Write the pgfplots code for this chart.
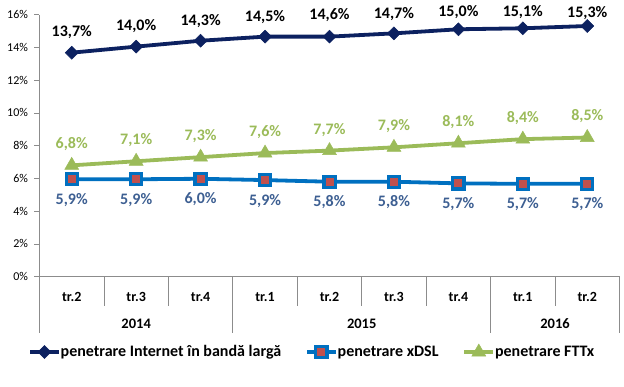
\documentclass[border=0pt]{standalone}
\usepackage{pgfplots}
\usepackage{pgfplotstable}
\pgfplotsset{compat=1.18}
\usepackage{fontspec}
\setmainfont{Carlito}
\definecolor{navy}{HTML}{0C2160}
\definecolor{dslblue}{HTML}{0070C0}
\definecolor{dslred}{HTML}{C0504D}
\definecolor{ftgreen}{HTML}{9BBB59}
\definecolor{dsltext}{HTML}{3D5F92}
\definecolor{axisgray}{HTML}{8C8C8C}
% x, plotted value, data label, label offset (pt)
\pgfplotstableread{
x  y      lab   dy
0  13.68  13,7  20.4
1  14.05  14,0  20.6
2  14.41  14,3  19.7
3  14.66  14,5  19.9
4  14.66  14,6  21.6
5  14.86  14,7  19.1
6  15.11  15,0  17.0
7  15.17  15,1  16.0
8  15.31  15,3  13.3
}\bbdata
\pgfplotstableread{
x  y     lab
0  5.95  5,9
1  5.95  5,9
2  5.98  6,0
3  5.9   5,9
4  5.8   5,8
5  5.8   5,8
6  5.7   5,7
7  5.67  5,7
8  5.67  5,7
}\dsldata
\pgfplotstableread{
x  y     lab
0  6.8   6,8
1  7.05  7,1
2  7.3   7,3
3  7.55  7,6
4  7.7   7,7
5  7.9   7,9
6  8.15  8,1
7  8.4   8,4
8  8.5   8,5
}\fttxdata
\begin{document}
\begin{tikzpicture}
\path[use as bounding box] (-39.5pt,-110.3pt) rectangle (584.5pt,276.7pt);
\begin{axis}[
  at={(0pt,0pt)}, anchor=south west,
  scale only axis, width=580pt, height=262pt,
  xmin=-0.5, xmax=8.5, ymin=0, ymax=16,
  axis lines*=left,
  axis line style={draw=axisgray, line width=0.8pt},
  xtick=\empty,
  ytick={0,2,...,16},
  yticklabel={\pgfmathprintnumber{\tick}\%},
  yticklabel style={font=\fontsize{12}{14}\selectfont, xshift=-3pt},
  y tick style={draw=axisgray, line width=0.8pt},
  tick align=outside, major tick length=5pt,
  clip=false,
  /pgf/number format/assume math mode=true,
  legend columns=3,
  legend style={draw=none, fill=none, inner sep=0pt,
    font=\fontsize{16}{19}\selectfont\bfseries,
    at={(axis description cs:-0.0198,-0.2863)}, anchor=west,
    /tikz/every even column/.append style={column sep=24pt},
    nodes={inner xsep=0pt, inner ysep=1pt}},
  legend image code/.code={\draw[#1, mark repeat=2, mark phase=2] plot coordinates {(0pt,0pt) (14.35pt,0pt) (28.7pt,0pt)};},
  point meta=explicit symbolic,
  nodes near coords={\pgfplotspointmeta\%},
]
% Internet broadband
\addplot[navy, line width=3.8pt, mark=square*, mark size=4.6pt,
  mark options={solid, rotate=45, fill=navy, draw=navy, line width=0.5pt},
  visualization depends on={\thisrow{dy} \as \labdy},
  every node near coord/.style={anchor=center, yshift=\labdy pt, text=black,
    font=\fontsize{16}{19}\selectfont\bfseries}]
  table[x=x, y=y, meta=lab] {\bbdata};
\addlegendentry{penetrare Internet în bandă largă}
% xDSL
\addplot[dslblue, line width=3.8pt, mark=square*, mark size=5.6pt,
  mark options={solid, fill=dslred, draw=dslblue, line width=3.2pt, rounded corners=1.5pt},
  every node near coord/.style={anchor=center, yshift=-20.5pt, text=dsltext,
    font=\fontsize{16}{19}\selectfont\bfseries}]
  table[x=x, y=y, meta=lab] {\dsldata};
\addlegendentry{penetrare xDSL}
% FTTx
\addplot[ftgreen, line width=3.8pt, mark=triangle*, mark size=8pt,
  mark options={solid, fill=ftgreen, draw=ftgreen, line width=0.5pt},
  every node near coord/.style={anchor=center, yshift=21pt, text=ftgreen,
    font=\fontsize{16}{19}\selectfont\bfseries}]
  table[x=x, y=y, meta=lab] {\fttxdata};
\addlegendentry{penetrare FTTx}
% category axis: separators
\draw[axisgray, line width=0.8pt] (axis cs:-0.5,0) -- ++(0pt,-56.3pt);
\draw[axisgray, line width=0.8pt] (axis cs:2.5,0) -- ++(0pt,-56.3pt);
\draw[axisgray, line width=0.8pt] (axis cs:6.5,0) -- ++(0pt,-56.3pt);
\draw[axisgray, line width=0.8pt] (axis cs:8.5,0) -- ++(0pt,-56.3pt);
\draw[axisgray, line width=0.8pt] (axis cs:0.5,0) -- ++(0pt,-29pt);
\draw[axisgray, line width=0.8pt] (axis cs:1.5,0) -- ++(0pt,-29pt);
\draw[axisgray, line width=0.8pt] (axis cs:3.5,0) -- ++(0pt,-29pt);
\draw[axisgray, line width=0.8pt] (axis cs:4.5,0) -- ++(0pt,-29pt);
\draw[axisgray, line width=0.8pt] (axis cs:5.5,0) -- ++(0pt,-29pt);
\draw[axisgray, line width=0.8pt] (axis cs:7.5,0) -- ++(0pt,-29pt);
% quarter labels
\begin{scope}[every node/.style={font=\fontsize{14}{16}\selectfont\bfseries, anchor=center, yshift=-20pt, inner sep=0pt}]
\node at (axis cs:0,0) {tr.2};
\node at (axis cs:1,0) {tr.3};
\node at (axis cs:2,0) {tr.4};
\node at (axis cs:3,0) {tr.1};
\node at (axis cs:4,0) {tr.2};
\node at (axis cs:5,0) {tr.3};
\node at (axis cs:6,0) {tr.4};
\node at (axis cs:7,0) {tr.1};
\node at (axis cs:8,0) {tr.2};
\end{scope}
% year labels
\begin{scope}[every node/.style={font=\fontsize{14.5}{17}\selectfont\bfseries, anchor=center, yshift=-47.3pt, inner sep=0pt}]
\node at (axis cs:1,0) {2014};
\node at (axis cs:4.5,0) {2015};
\node at (axis cs:7.5,0) {2016};
\end{scope}
\end{axis}
\end{tikzpicture}
\end{document}
